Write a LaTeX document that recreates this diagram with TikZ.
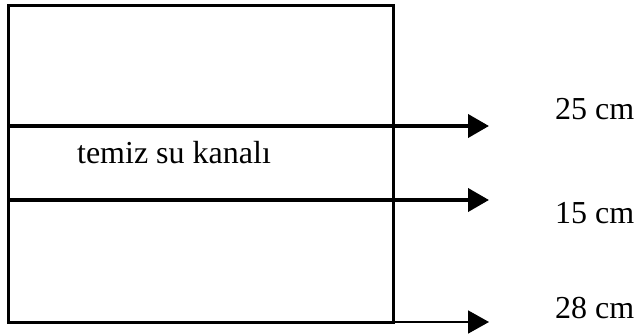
\documentclass[tikz,border=0pt]{standalone}
\usepackage{fontspec}
\setmainfont{Liberation Serif}
\usetikzlibrary{arrows.meta}
\begin{document}
\begin{tikzpicture}[x=1pt,y=-1pt,
  lbl/.style={inner sep=0pt,font=\fontsize{32}{36}\selectfont},
  flow/.style={line width=4pt,-{Triangle[length=21pt,width=23pt]}},
  thinflow/.style={line width=1.8pt,-{Triangle[length=21pt,width=23pt]}}]
\useasboundingbox (0,0) rectangle (638,335);
\draw[line width=3pt] (8,5) rectangle (393,322);
\coordinate (a1) at (8,126); \coordinate (b1) at (489,126);
\coordinate (a2) at (8,200); \coordinate (b2) at (489,200);
\coordinate (a3) at (393,322); \coordinate (b3) at (489,322);
\draw[flow] (a1) -- (b1);
\draw[flow] (a2) -- (b2);
\draw[thinflow] (a3) -- (b3);
\node[lbl,anchor=base] (ch) at (174,163) {temiz su kanalı};
\node[lbl,anchor=base west] (l1) at (555,119) {25 cm};
\node[lbl,anchor=base west] (l2) at (555,223) {15 cm};
\node[lbl,anchor=base west] (l3) at (555,318) {28 cm};
\end{tikzpicture}
\end{document}
